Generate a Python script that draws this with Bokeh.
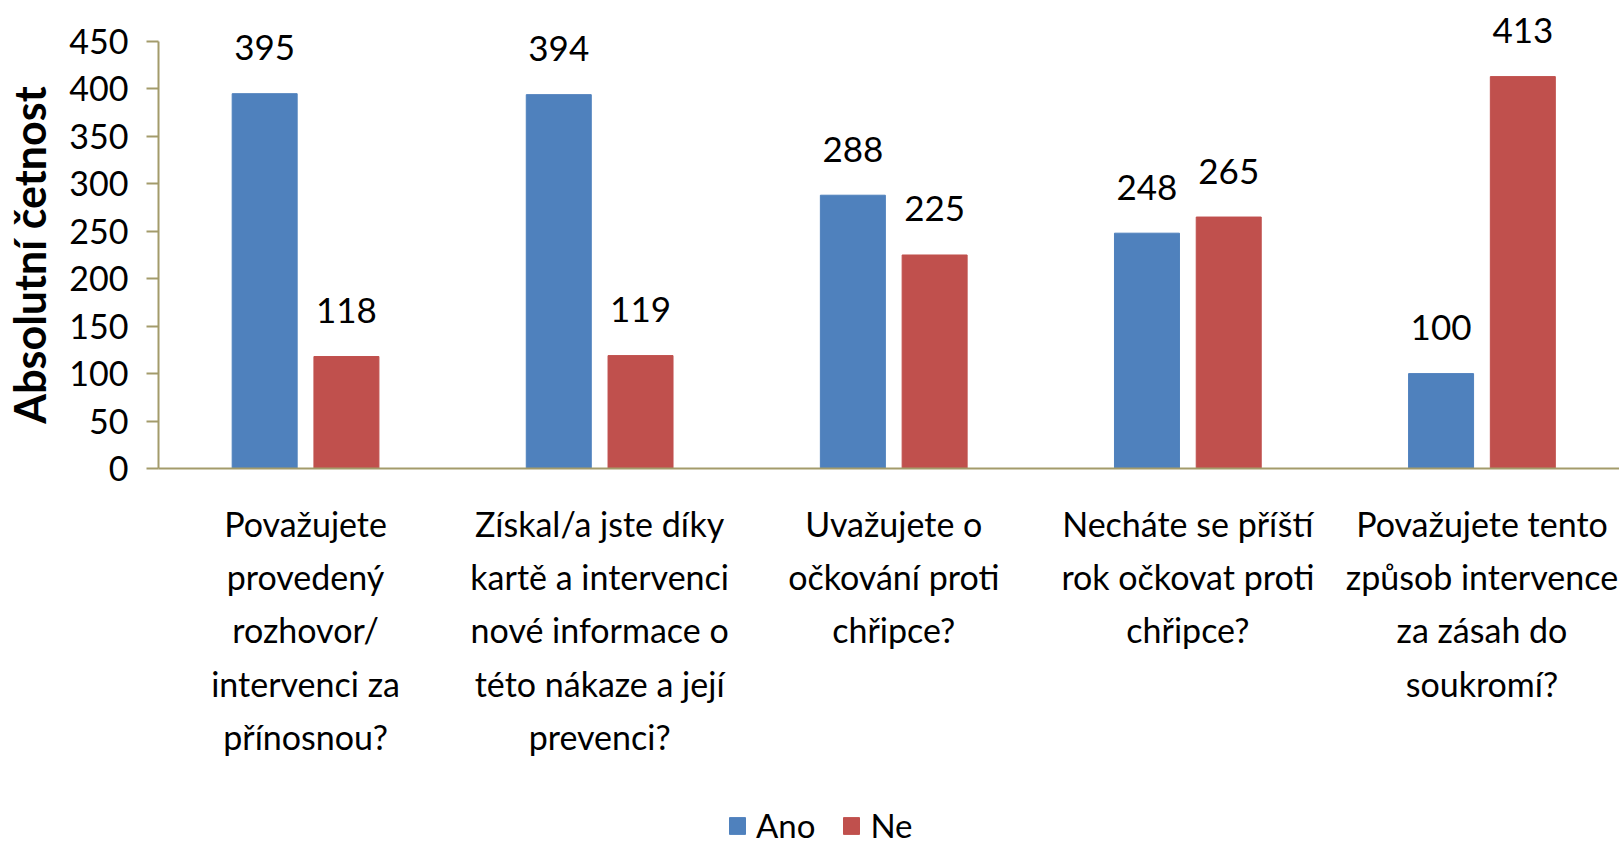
import math
from bokeh.plotting import figure
from bokeh.models import (Range1d, FixedTicker, Legend, LegendItem, ColumnDataSource,
                          LinearAxis)
from bokeh.transform import dodge
from bokeh.core.properties import value
from bokeh.embed import file_html
from bokeh.resources import INLINE

# ---- data ----
categories = [
    "Považujete\nprovedený\nrozhovor/\nintervenci za\npřínosnou?",
    "Získal/a jste díky\nkartě a intervenci\nnové informace o\ntéto nákaze a její\nprevenci?",
    "Uvažujete o\nočkování proti\nchřipce?",
    "Necháte se příští\nrok očkovat proti\nchřipce?",
    "Považujete tento\nzpůsob intervence\nza zásah do\nsoukromí?",
]
series_names = ["Ano", "Ne"]
ano = [395, 394, 288, 248, 100]
ne = [118, 119, 225, 265, 413]
y_ticks = [0, 50, 100, 150, 200, 250, 300, 350, 400, 450]
y_title = "Absolutní četnost"

# ---- styling / layout ----
BLUE = "#4F81BD"
RED = "#C0504D"
AXIS = "#A39B6B"
FONT = "Lato"
W, H = 1619, 846
AXIS_X_PX = 158        # screen x of the value axis
AXIS_Y_PX = 468        # screen y of the category axis
CAT_PX = 294.1         # width of one category
PX_PER_UNIT = 0.9489   # pixels per count
X_START = -0.5 - AXIS_X_PX / CAT_PX
X_END = X_START + W / CAT_PX
Y_END = AXIS_Y_PX / PX_PER_UNIT
Y_START = -(H - AXIS_Y_PX) / PX_PER_UNIT

idx = list(range(len(categories)))
src = ColumnDataSource(dict(
    idx=idx, ano=ano, ne=ne,
    ano_txt=[str(v) for v in ano],
    ne_txt=[str(v) for v in ne],
))

p = figure(width=W, height=H, output_backend="svg", toolbar_location=None,
           title=None, x_range=Range1d(X_START, X_END), y_range=Range1d(Y_START, Y_END),
           x_axis_location=None, y_axis_location=None,
           min_border=0, min_border_left=0, min_border_right=0, min_border_top=0,
           min_border_bottom=0)
p.outline_line_color = None
p.grid.visible = False
p.background_fill_color = "white"
p.border_fill_color = "white"

bw = 0.221
off = 0.139
r_ano = p.vbar(x=dodge("idx", -off, range=p.x_range), top="ano", width=bw, bottom=0,
               source=src, fill_color=BLUE, line_color=BLUE)
r_ne = p.vbar(x=dodge("idx", off, range=p.x_range), top="ne", width=bw, bottom=0,
              source=src, fill_color=RED, line_color=RED)

for col, o in (("ano", -off), ("ne", off)):
    p.text(x=dodge("idx", o, range=p.x_range), y=col, text=col + "_txt", source=src,
           text_align="center", text_baseline="alphabetic", y_offset=-46,
           text_font=value(FONT), text_font_size="35px", text_color="black")

# value axis (left), fixed at the left edge of the first category
ya = LinearAxis(fixed_location=-0.5, ticker=FixedTicker(ticks=y_ticks), bounds=(0, 450))
ya.axis_line_color = AXIS
ya.axis_line_width = 2
ya.major_tick_line_color = AXIS
ya.major_tick_line_width = 2
ya.major_tick_out = 12
ya.major_tick_in = 0
ya.minor_tick_line_color = None
ya.major_label_standoff = 18
ya.major_label_text_font = FONT
ya.major_label_text_font_size = "34px"
ya.major_label_text_color = "black"
p.add_layout(ya, "left")

# category axis line at y = 0
xa = LinearAxis(fixed_location=0, ticker=FixedTicker(ticks=[]), bounds=(-0.5, X_END))
xa.axis_line_color = AXIS
xa.axis_line_width = 2
xa.major_tick_line_color = None
xa.minor_tick_line_color = None
xa.major_label_text_font_size = "0px"
p.add_layout(xa, "below")

# value-axis title
p.text(x=[X_START + 29 / CAT_PX], y=[(y_ticks[0] + y_ticks[-1]) / 2], text=[y_title],
       angle=math.pi / 2, text_align="center", text_baseline="middle",
       text_font=value(FONT), text_font_size="43px", text_font_style="bold",
       text_color="black")

# category labels (multi-line, below the axis)
FIRST_LINE_PX = 55
LINE_PX = 53.2
lx, ly, lt, lo = [], [], [], []
for i, cat in enumerate(categories):
    for j, line in enumerate(cat.split("\n")):
        lx.append(i)
        ly.append(0)
        lt.append(line)
        lo.append(FIRST_LINE_PX + j * LINE_PX)
p.text(x=lx, y=ly, text=lt, y_offset=lo, text_align="center", text_baseline="alphabetic",
       text_font=value(FONT), text_font_size="34px", text_color="black")

legend = Legend(items=[LegendItem(label=series_names[0], renderers=[r_ano]),
                       LegendItem(label=series_names[1], renderers=[r_ne])],
                orientation="horizontal", location=(727, 1),
                padding=0, margin=0, spacing=26, label_standoff=9,
                glyph_width=20, glyph_height=21, label_height=21,
                label_text_font=FONT, label_text_font_size="33px",
                label_text_color="black", border_line_color=None,
                background_fill_alpha=0)
p.add_layout(legend)

open("out.html", "w").write(file_html(p, INLINE))
